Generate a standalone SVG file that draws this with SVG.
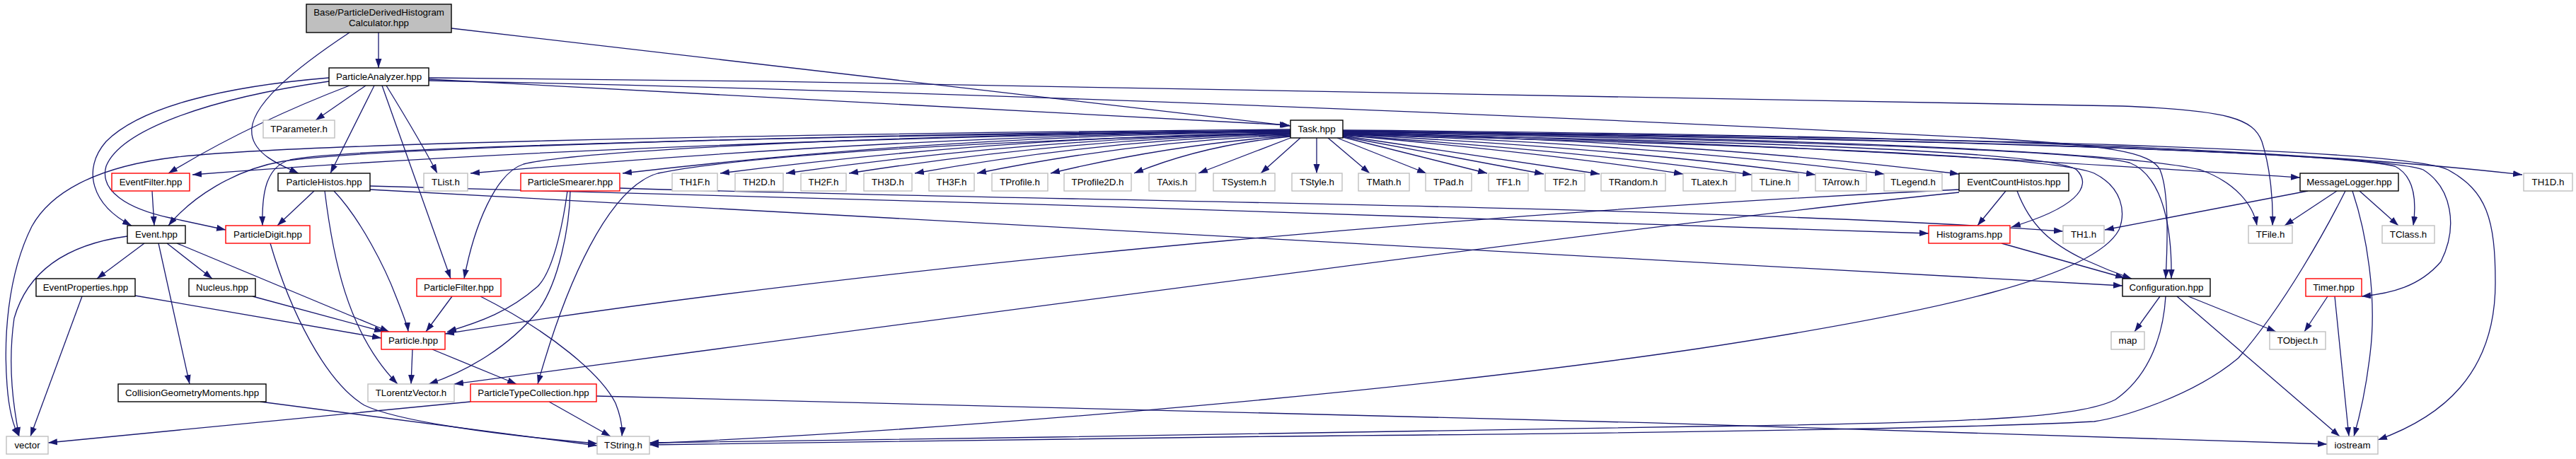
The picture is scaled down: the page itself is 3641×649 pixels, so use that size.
<svg xmlns="http://www.w3.org/2000/svg" width="3641" height="649" viewBox="0 0 3641 649">
<style>
.n rect{fill:#fff;stroke-width:1.4}
.k rect{stroke:#000}
.r rect{stroke:#ff0000}
.g rect{stroke:#bfbfbf}
.root rect{fill:#bfbfbf;stroke:#000}
text{font-family:"Liberation Sans",Arial,Helvetica,sans-serif;font-size:13.3px;text-anchor:middle;fill:#000}
#edges path{fill:none;stroke:#191970;stroke-width:1.3;marker-end:url(#a)}
</style>
<defs>
<marker id="a" markerUnits="userSpaceOnUse" markerWidth="14" markerHeight="10" refX="13" refY="5" orient="auto"><path d="M0,0.5 L13,5 L0,9.5 z" fill="#191970"/></marker>
</defs>
<rect width="3641" height="649" fill="#fff"/>
<g id="edges">
<path d="M535,46 V96"/>
<path d="M494,46 C420,95 350,150 356,190 C360,220 400,235 422,245"/>
<path d="M638,40 L1824,178"/>
<path d="M517,121 L446,170"/>
<path d="M529,121 L467,245"/>
<path d="M546,121 C570,160 600,210 618,245"/>
<path d="M540,121 L637,394"/>
<path d="M494,121 C400,157 320,195 238,245"/>
<path d="M465,110 C320,122 200,150 150,200 C115,240 130,290 186,319"/>
<path d="M465,115 C290,140 170,185 150,235 C140,270 180,295 240,308 L319,325"/>
<path d="M606,112 L1822,177"/>
<path d="M606,110 C1500,118 2500,135 3000,150 C3150,156 3185,168 3197,200 C3210,240 3213,290 3212,319"/>
<path d="M606,114 C1400,130 2200,165 2800,195 C2980,205 3040,215 3053,240 C3066,270 3064,340 3061,394"/>
<path d="M1838,195 L1782,245"/>
<path d="M1824,195 L1694,245"/>
<path d="M1824,193 Q1700,205 1603,245"/>
<path d="M1824,192 Q1650,205 1485,245"/>
<path d="M1824,191 Q1600,200 1381,245"/>
<path d="M1824,190 Q1560,197 1293,245"/>
<path d="M1824,189 Q1520,195 1200,245"/>
<path d="M1824,189 Q1480,193 1111,245"/>
<path d="M1824,188 Q1430,192 1018,245"/>
<path d="M1824,187 Q1350,190 880,245"/>
<path d="M1824,186 Q1300,190 665,245"/>
<path d="M1824,185 Q900,198 272,247"/>
<path d="M1824,184 C1100,190 500,212 400,228 C330,240 270,280 238,319"/>
<path d="M1824,185 C1100,192 480,210 410,226 C375,236 370,275 371,319"/>
<path d="M1824,183 C1000,190 400,205 250,222 C130,236 70,275 45,320 C10,390 5,480 10,545 C13,585 20,605 27,617"/>
<path d="M1824,186 C1300,188 820,212 740,232 C700,245 670,320 656,394"/>
<path d="M1824,188 C1400,198 1050,220 930,245 C860,265 800,400 760,543"/>
<path d="M1861,195 V245"/>
<path d="M1877,195 L1936,245"/>
<path d="M1890,195 L2016,245"/>
<path d="M1898,194 L2102,245"/>
<path d="M1898,193 L2182,246"/>
<path d="M1898,192 L2261,246"/>
<path d="M1898,191 Q2200,218 2379,246"/>
<path d="M1898,191 Q2250,215 2476,247"/>
<path d="M1898,190 Q2300,210 2566,247"/>
<path d="M1898,189 Q2350,205 2663,246"/>
<path d="M1898,188 Q2400,200 2769,246"/>
<path d="M1898,188 C2500,200 2900,230 3251,251"/>
<path d="M1898,184 C2600,190 3200,205 3565,247"/>
<path d="M1898,186 C2600,197 3000,215 3110,240 C3160,258 3185,290 3190,319"/>
<path d="M1898,185 C2700,195 3300,215 3385,235 C3415,250 3415,290 3411,319"/>
<path d="M1898,186 C2700,196 3350,215 3425,240 C3465,265 3475,320 3450,370 C3420,405 3380,415 3338,419"/>
<path d="M1898,185 C2800,195 3400,210 3460,240 C3515,270 3527,310 3527,400 C3527,530 3450,590 3361,622"/>
<path d="M1898,187 C2600,200 2950,215 3010,230 C3060,250 3070,330 3069,394"/>
<path d="M1898,189 C2500,200 2900,215 2935,240 C2960,265 2930,295 2843,321"/>
<path d="M1898,190 C2500,205 2900,220 2960,245 C3000,265 3005,300 2995,325 C2960,390 2750,440 2400,493 C2000,552 1400,605 918,627"/>
<path d="M2835,270 L2795,319"/>
<path d="M2851,270 C2870,320 2900,345 2946,367 C2970,378 2990,386 3013,394"/>
<path d="M2769,268 C2200,295 1300,365 629,472"/>
<path d="M2769,272 C2300,320 1300,455 642,543"/>
<path d="M876,266 C1400,283 2400,290 2916,327"/>
<path d="M523,263 C1200,280 2200,310 2726,330"/>
<path d="M523,268 C1200,300 2300,370 3000,404"/>
<path d="M3262,270 L2975,325"/>
<path d="M3303,270 L3229,319"/>
<path d="M3315,270 C3290,320 3230,430 3164,506 C3100,560 3000,590 2960,596 C2700,610 2000,615 1800,617 C1400,620 1100,625 918,629"/>
<path d="M3325,270 C3345,330 3360,420 3350,500 C3343,560 3332,600 3327,617"/>
<path d="M3335,270 L3390,319"/>
<path d="M2829,344 L3003,393"/>
<path d="M3053,419 L3017,469"/>
<path d="M3093,419 L3217,469"/>
<path d="M3077,419 L3307,617"/>
<path d="M3061,419 C3058,470 3040,530 2990,565 C2940,590 2800,598 2400,603 C2000,610 1400,620 918,626"/>
<path d="M3290,419 L3257,469"/>
<path d="M3300,419 L3320,617"/>
<path d="M843,560 C1500,575 2500,600 3289,628"/>
<path d="M776,568 L863,617"/>
<path d="M665,568 C500,585 300,605 68,626"/>
<path d="M583,494 L581,543"/>
<path d="M611,494 L730,543"/>
<path d="M639,419 L602,469"/>
<path d="M679,419 C780,470 850,530 870,570 C878,590 880,605 879,617"/>
<path d="M802,270 C798,300 785,380 760,405 C720,440 680,455 632,469"/>
<path d="M806,270 C805,320 790,400 760,440 C720,490 660,525 606,543"/>
<path d="M444,270 L392,319"/>
<path d="M459,270 C470,360 490,470 562,543"/>
<path d="M472,270 C510,310 545,380 560,420 C570,445 576,460 577,469"/>
<path d="M204,344 L137,394"/>
<path d="M236,344 L300,394"/>
<path d="M224,344 L268,543"/>
<path d="M250,344 L550,469"/>
<path d="M180,334 C100,345 40,380 20,450 C10,520 20,580 27,617"/>
<path d="M215,270 L218,319"/>
<path d="M191,418 L539,478"/>
<path d="M116,419 L43,617"/>
<path d="M357,419 L542,469"/>
<path d="M368,568 L844,630"/>
<path d="M382,344 C410,440 460,540 515,573 C560,595 700,615 844,627"/>
</g>
<g id="n_base" class="n root"><rect x="433" y="6" width="205" height="40"/><text x="535.5" y="22">Base/ParticleDerivedHistogram</text><text x="535.5" y="37">Calculator.hpp</text></g>
<g id="n_pa" class="n k"><rect x="465" y="96" width="141" height="25"/><text x="535.5" y="113">ParticleAnalyzer.hpp</text></g>
<g id="n_tparameter" class="n g"><rect x="372" y="170" width="101" height="25"/><text x="422.5" y="187">TParameter.h</text></g>
<g id="n_task" class="n k"><rect x="1824" y="170" width="74" height="25"/><text x="1861" y="187">Task.hpp</text></g>
<g id="n_eventfilter" class="n r"><rect x="158" y="245" width="110" height="25"/><text x="213" y="262">EventFilter.hpp</text></g>
<g id="n_particlehistos" class="n k"><rect x="393" y="245" width="130" height="25"/><text x="458" y="262">ParticleHistos.hpp</text></g>
<g id="n_tlist" class="n g"><rect x="599" y="245" width="62" height="25"/><text x="630" y="262">TList.h</text></g>
<g id="n_particlesmearer" class="n r"><rect x="736" y="245" width="140" height="25"/><text x="806" y="262">ParticleSmearer.hpp</text></g>
<g id="n_th1f" class="n g"><rect x="950" y="245" width="64" height="25"/><text x="982" y="262">TH1F.h</text></g>
<g id="n_th2d" class="n g"><rect x="1039" y="245" width="68" height="25"/><text x="1073" y="262">TH2D.h</text></g>
<g id="n_th2f" class="n g"><rect x="1132" y="245" width="64" height="25"/><text x="1164" y="262">TH2F.h</text></g>
<g id="n_th3d" class="n g"><rect x="1221" y="245" width="68" height="25"/><text x="1255" y="262">TH3D.h</text></g>
<g id="n_th3f" class="n g"><rect x="1313" y="245" width="64" height="25"/><text x="1345" y="262">TH3F.h</text></g>
<g id="n_tprofile" class="n g"><rect x="1402" y="245" width="79" height="25"/><text x="1441.5" y="262">TProfile.h</text></g>
<g id="n_tprofile2d" class="n g"><rect x="1504" y="245" width="95" height="25"/><text x="1551.5" y="262">TProfile2D.h</text></g>
<g id="n_taxis" class="n g"><rect x="1624" y="245" width="66" height="25"/><text x="1657" y="262">TAxis.h</text></g>
<g id="n_tsystem" class="n g"><rect x="1715" y="245" width="87" height="25"/><text x="1758.5" y="262">TSystem.h</text></g>
<g id="n_tstyle" class="n g"><rect x="1826" y="245" width="71" height="25"/><text x="1861.5" y="262">TStyle.h</text></g>
<g id="n_tmath" class="n g"><rect x="1920" y="245" width="72" height="25"/><text x="1956" y="262">TMath.h</text></g>
<g id="n_tpad" class="n g"><rect x="2015" y="245" width="65" height="25"/><text x="2047.5" y="262">TPad.h</text></g>
<g id="n_tf1" class="n g"><rect x="2104" y="245" width="56" height="25"/><text x="2132" y="262">TF1.h</text></g>
<g id="n_tf2" class="n g"><rect x="2184" y="245" width="56" height="25"/><text x="2212" y="262">TF2.h</text></g>
<g id="n_trandom" class="n g"><rect x="2263" y="245" width="91" height="25"/><text x="2308.5" y="262">TRandom.h</text></g>
<g id="n_tlatex" class="n g"><rect x="2379" y="245" width="74" height="25"/><text x="2416" y="262">TLatex.h</text></g>
<g id="n_tline" class="n g"><rect x="2476" y="245" width="66" height="25"/><text x="2509" y="262">TLine.h</text></g>
<g id="n_tarrow" class="n g"><rect x="2566" y="245" width="72" height="25"/><text x="2602" y="262">TArrow.h</text></g>
<g id="n_tlegend" class="n g"><rect x="2663" y="245" width="82" height="25"/><text x="2704" y="262">TLegend.h</text></g>
<g id="n_eventcounthistos" class="n k"><rect x="2769" y="245" width="155" height="25"/><text x="2846.5" y="262">EventCountHistos.hpp</text></g>
<g id="n_messagelogger" class="n k"><rect x="3251" y="245" width="139" height="25"/><text x="3320.5" y="262">MessageLogger.hpp</text></g>
<g id="n_th1d" class="n g"><rect x="3567" y="245" width="69" height="25"/><text x="3601.5" y="262">TH1D.h</text></g>
<g id="n_event" class="n k"><rect x="180" y="319" width="82" height="25"/><text x="221" y="336">Event.hpp</text></g>
<g id="n_particledigit" class="n r"><rect x="319" y="319" width="119" height="25"/><text x="378.5" y="336">ParticleDigit.hpp</text></g>
<g id="n_histograms" class="n r"><rect x="2726" y="319" width="115" height="25"/><text x="2783.5" y="336">Histograms.hpp</text></g>
<g id="n_th1" class="n g"><rect x="2916" y="319" width="58" height="25"/><text x="2945" y="336">TH1.h</text></g>
<g id="n_tfile" class="n g"><rect x="3178" y="319" width="62" height="25"/><text x="3209" y="336">TFile.h</text></g>
<g id="n_tclass" class="n g"><rect x="3367" y="319" width="74" height="25"/><text x="3404" y="336">TClass.h</text></g>
<g id="n_eventproperties" class="n k"><rect x="51" y="394" width="140" height="25"/><text x="121" y="411">EventProperties.hpp</text></g>
<g id="n_nucleus" class="n k"><rect x="267" y="394" width="94" height="25"/><text x="314" y="411">Nucleus.hpp</text></g>
<g id="n_particlefilter" class="n r"><rect x="589" y="394" width="119" height="25"/><text x="648.5" y="411">ParticleFilter.hpp</text></g>
<g id="n_configuration" class="n k"><rect x="3000" y="394" width="124" height="25"/><text x="3062" y="411">Configuration.hpp</text></g>
<g id="n_timer" class="n r"><rect x="3259" y="394" width="79" height="25"/><text x="3298.5" y="411">Timer.hpp</text></g>
<g id="n_particle" class="n r"><rect x="539" y="469" width="90" height="25"/><text x="584" y="486">Particle.hpp</text></g>
<g id="n_map" class="n g"><rect x="2984" y="469" width="47" height="25"/><text x="3007.5" y="486">map</text></g>
<g id="n_tobject" class="n g"><rect x="3208" y="469" width="79" height="25"/><text x="3247.5" y="486">TObject.h</text></g>
<g id="n_cgm" class="n k"><rect x="167" y="543" width="209" height="25"/><text x="271.5" y="560">CollisionGeometryMoments.hpp</text></g>
<g id="n_tlorentzvector" class="n g"><rect x="520" y="543" width="122" height="25"/><text x="581" y="560">TLorentzVector.h</text></g>
<g id="n_ptc" class="n r"><rect x="665" y="543" width="178" height="25"/><text x="754" y="560">ParticleTypeCollection.hpp</text></g>
<g id="n_vector" class="n g"><rect x="9" y="617" width="59" height="25"/><text x="38.5" y="634">vector</text></g>
<g id="n_tstring" class="n g"><rect x="844" y="617" width="74" height="25"/><text x="881" y="634">TString.h</text></g>
<g id="n_iostream" class="n g"><rect x="3289" y="617" width="72" height="25"/><text x="3325" y="634">iostream</text></g>
</svg>
